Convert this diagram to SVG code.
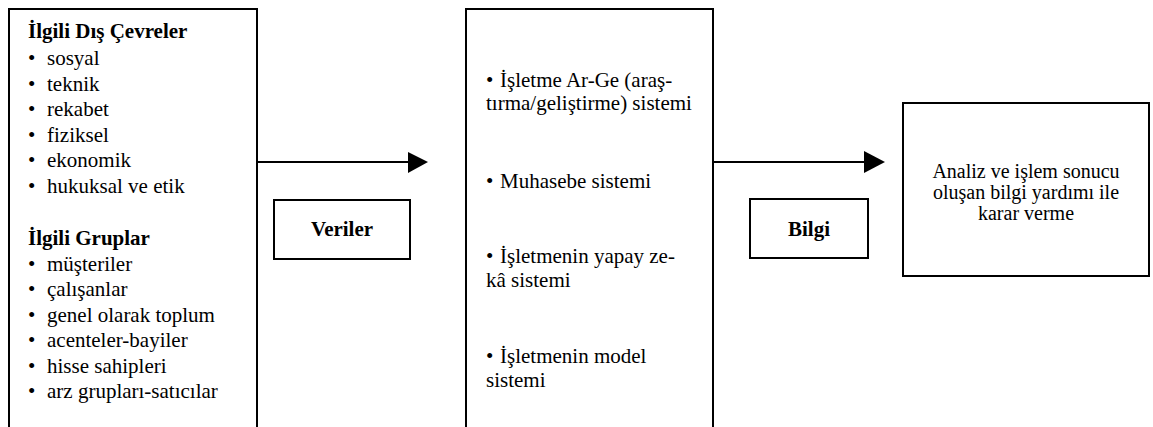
<svg xmlns="http://www.w3.org/2000/svg" width="1153" height="427" viewBox="0 0 1153 427" font-family="'Liberation Serif', 'Times New Roman', 'DejaVu Serif', serif">
<style>
text{font-family:'Liberation Serif','Times New Roman','DejaVu Serif',serif;font-size:21px;fill:#000}
.box{fill:none;stroke:#000;stroke-width:2}
.b{font-weight:bold}
.c{text-anchor:middle}
.ln{stroke:#000;stroke-width:2;fill:none}
.r{font-size:20px}
</style>
<rect width="1153" height="427" fill="#fff"/>
<g id="dis-cevreler">
<path class="box" d="M9,427 V9 H257 V427"/>
<text class="b" x="28" y="38">İlgili Dış Çevreler</text>
<text x="28" y="65">•</text><text x="47" y="65">sosyal</text>
<text x="28" y="90.5">•</text><text x="47" y="90.5">teknik</text>
<text x="28" y="116">•</text><text x="47" y="116">rekabet</text>
<text x="28" y="141.5">•</text><text x="47" y="141.5">fiziksel</text>
<text x="28" y="167">•</text><text x="47" y="167">ekonomik</text>
<text x="28" y="192.5">•</text><text x="47" y="192.5">hukuksal ve etik</text>
<text class="b" x="28" y="245">İlgili Gruplar</text>
<text x="28" y="270.5">•</text><text x="47" y="270.5">müşteriler</text>
<text x="28" y="296">•</text><text x="47" y="296">çalışanlar</text>
<text x="28" y="321.5">•</text><text x="47" y="321.5">genel olarak toplum</text>
<text x="28" y="347">•</text><text x="47" y="347">acenteler-bayiler</text>
<text x="28" y="372.5">•</text><text x="47" y="372.5">hisse sahipleri</text>
<text x="28" y="398">•</text><text x="47" y="398">arz grupları-satıcılar</text>
</g>
<g id="veriler">
<rect class="box" x="274" y="200" width="136" height="59"/>
<text class="b c" x="342" y="236">Veriler</text>
</g>
<g id="sistemler">
<path class="box" d="M466,427 V9 H713 V427"/>
<text x="486" y="87">•</text><text x="500" y="87">İşletme Ar-Ge (araş-</text>
<text x="486" y="110">tırma/geliştirme) sistemi</text>
<text x="486" y="188">•</text><text x="500" y="188">Muhasebe sistemi</text>
<text x="486" y="263">•</text><text x="500" y="263">İşletmenin yapay ze-</text>
<text x="486" y="287">kâ sistemi</text>
<text x="486" y="363">•</text><text x="500" y="363">İşletmenin model</text>
<text x="486" y="387">sistemi</text>
</g>
<g id="bilgi">
<rect class="box" x="750" y="199" width="118" height="59"/>
<text class="b c" x="809" y="236">Bilgi</text>
</g>
<g id="karar">
<rect class="box" x="903" y="103" width="246" height="173"/>
<text class="c r" x="1026" y="178">Analiz ve işlem sonucu</text>
<text class="c r" x="1026" y="199">oluşan bilgi yardımı ile</text>
<text class="c r" x="1026" y="220">karar verme</text>
</g>
<g id="connectors">
<line class="ln" x1="257" y1="162" x2="410" y2="162"/>
<polygon points="408,152 428,162 408,173" fill="#000"/>
<line class="ln" x1="713" y1="162" x2="866" y2="162"/>
<polygon points="864,151 885,162 864,173" fill="#000"/>
</g>
</svg>
